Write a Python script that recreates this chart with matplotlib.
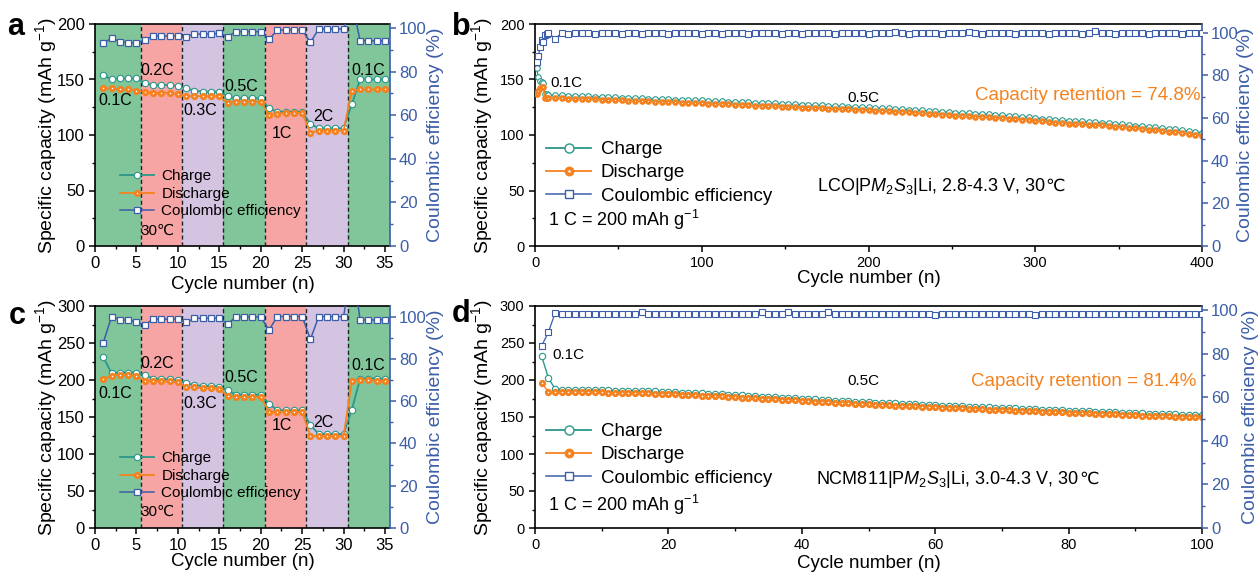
import matplotlib
matplotlib.use("Agg")
import matplotlib.pyplot as plt
from matplotlib.lines import Line2D
from matplotlib.ticker import MultipleLocator
from matplotlib.offsetbox import TextArea, HPacker, AnchoredOffsetbox

plt.rcParams['font.family'] = ['Liberation Sans', 'DejaVu Sans']
plt.rcParams['mathtext.fontset'] = 'custom'
plt.rcParams['mathtext.rm'] = 'Liberation Sans'
plt.rcParams['mathtext.it'] = 'Liberation Sans:italic'
plt.rcParams['mathtext.bf'] = 'Liberation Sans:bold'

TEAL = '#2b978a'
ORANGE = '#f5821f'
BLUE = '#3c5ea8'
GREEN = '#80c69a'
PINK = '#f6a4a4'
PURPLE = '#d4c3e1'

# ---------------- data: rate tests (a, c) ----------------
rate_cycles = list(range(1, 36))
rate_labels = ['0.1C', '0.2C', '0.3C', '0.5C', '1C', '2C', '0.1C']
band_edges = [0, 5.5, 10.5, 15.5, 20.5, 25.5, 30.5, 35.6]

a_charge = [154, 150, 151, 151, 151, 147, 145, 145, 145, 144,
            142, 140, 139, 139, 139, 135, 133, 133, 133, 133,
            124, 121, 121, 121, 121, 110, 106, 106, 106, 106,
            128, 150, 150, 150, 150]
a_discharge = [142, 142, 141, 141, 140, 139, 138, 138, 138, 137,
               135, 135, 135, 135, 135, 129, 130, 130, 130, 130,
               118, 119, 120, 120, 120, 102, 104, 104, 104, 104,
               140, 141, 141, 141, 141]
a_ce = [93.0, 95.3, 93.7, 93.3, 93.0, 94.5, 96.3, 96.3, 96.3, 96.2,
        96.0, 97.2, 97.2, 97.2, 97.5, 96.0, 98.3, 98.3, 98.3, 98.3,
        94.8, 99.0, 99.0, 99.0, 99.0, 93.4, 99.5, 99.5, 99.5, 99.5,
        112.0, 94.0, 94.2, 94.0, 94.0]

c_charge = [231, 209, 210, 210, 210, 207, 202, 201, 201, 200,
            196, 193, 192, 192, 191, 186, 180, 180, 180, 180,
            168, 159, 159, 159, 159, 139, 127, 127, 127, 127,
            160, 202, 202, 202, 201]
c_discharge = [201, 206, 207, 207, 205, 199, 199, 198, 198, 197,
               190, 190, 189, 189, 188, 178, 177, 177, 177, 177,
               157, 157, 157, 157, 157, 124, 124, 124, 124, 124,
               199, 200, 200, 199, 198]
c_ce = [87.7, 100.0, 98.4, 98.4, 97.6, 96.0, 98.8, 98.8, 98.8, 98.8,
        97.2, 99.2, 99.2, 99.2, 99.2, 96.5, 99.8, 99.8, 99.8, 99.8,
        93.7, 100.0, 100.0, 100.0, 100.0, 89.3, 100.0, 100.0, 100.0, 100.0,
        125.0, 98.4, 98.4, 98.4, 98.6]

# ---------------- data: LCO long cycling (b) ----------------
b_cycles = [1, 2, 3, 4, 5, 6, 7] + list(range(8, 401, 4))
b_charge = [160, 152, 149, 148, 147, 137, 136.5,
            136.0, 135.8, 135.6, 135.4, 135.2, 135.0, 134.8, 134.6, 134.4, 134.2,
            133.9, 133.7, 133.5, 133.3, 133.1, 132.8, 132.6, 132.4, 132.2, 131.9,
            131.7, 131.5, 131.3, 131.1, 130.8, 130.6, 130.4, 130.1, 129.9, 129.6,
            129.4, 129.1, 128.9, 128.6, 128.4, 128.1, 127.8, 127.6, 127.3, 127.1,
            126.8, 126.6, 126.3, 126.1, 125.8, 125.6, 125.4, 125.1, 124.9, 124.6,
            124.2, 123.9, 123.6, 123.2, 122.9, 122.5, 122.1, 121.8, 121.4, 121.0,
            120.6, 120.1, 119.7, 119.5, 119.2, 119.0, 118.6, 118.2, 117.9, 117.4,
            117.0, 116.5, 116.0, 115.4, 114.8, 114.2, 113.7, 113.3, 112.9, 112.6,
            112.2, 111.9, 111.6, 111.2, 110.8, 110.2, 109.6, 109.0, 108.5, 108.0,
            107.4, 106.8, 106.2, 105.6, 105.0, 104.2, 103.5, 102.8, 102.1]
b_discharge = [137, 140, 142, 143.5, 143, 133.5, 133.2,
               133.0, 133.2, 132.9, 132.8, 132.6, 132.5, 132.3, 132.0, 131.8, 131.6,
               131.3, 131.1, 130.9, 130.7, 130.5, 130.2, 130.0, 129.8, 129.6, 129.3,
               129.1, 128.9, 128.7, 128.5, 128.2, 128.0, 127.8, 127.5, 127.3, 127.0,
               126.8, 126.5, 126.3, 126.0, 125.8, 125.5, 125.2, 125.0, 124.7, 124.5,
               124.2, 124.0, 123.7, 123.5, 123.2, 123.0, 122.8, 122.5, 122.3, 122.0,
               121.6, 121.3, 121.0, 120.6, 120.3, 119.9, 119.5, 119.2, 118.8, 118.4,
               118.0, 117.5, 117.1, 116.9, 116.6, 116.4, 116.0, 115.6, 115.3, 114.8,
               114.4, 113.9, 113.4, 112.8, 112.2, 111.6, 111.1, 110.7, 110.3, 110.0,
               109.6, 109.3, 109.0, 108.6, 108.2, 107.6, 107.0, 106.4, 105.9, 105.4,
               104.8, 104.2, 103.6, 103.0, 102.4, 101.6, 100.9, 100.2, 99.5]
b_ce = [86, 89, 93, 96.5, 95.5, 99.0, 99.3,
        99.6, 97.2, 99.6, 99.5, 99.7, 99.6, 99.6, 99.5, 99.6, 99.7,
        99.6, 99.5, 99.6, 99.6, 99.2, 99.6, 99.7, 99.6, 99.5, 99.6,
        99.6, 99.7, 99.6, 99.5, 99.6, 99.6, 99.2, 99.6, 99.7, 99.6,
        99.5, 99.6, 99.6, 99.7, 99.6, 99.5, 99.6, 99.6, 99.2, 99.6,
        99.6, 99.7, 99.6, 99.5, 99.6, 99.6, 99.7, 99.6, 99.5, 99.6,
        99.6, 99.7, 100.3, 99.6, 99.5, 99.6, 99.6, 99.7, 99.6, 99.5,
        99.6, 99.6, 99.7, 100.4, 99.6, 99.5, 99.6, 99.6, 99.7, 99.6,
        99.5, 99.6, 99.6, 99.7, 99.6, 99.5, 99.6, 99.6, 99.7, 99.6,
        99.5, 99.6, 100.5, 99.7, 99.6, 99.5, 99.6, 99.6, 99.7, 99.6,
        99.5, 99.6, 99.6, 99.7, 99.6, 99.5, 99.6, 99.6, 99.7]

# ---------------- data: NCM811 long cycling (d) ----------------
d_cycles = list(range(1, 101))
d_charge = [232, 203, 188,
            186.9, 186.8, 186.7, 186.6, 186.5, 186.4, 186.2,
            186.0, 185.8, 185.6, 185.4, 185.2, 185.0, 184.7, 184.5, 184.2, 183.9,
            183.5, 183.1, 182.7, 182.3, 181.9, 181.5, 181.1, 180.7, 180.2, 179.7,
            179.2, 178.7, 178.2, 177.7, 177.2, 176.7, 176.2, 175.7, 175.2, 174.7,
            174.2, 173.7, 173.2, 172.7, 172.2, 171.7, 171.2, 170.8, 170.4, 169.9,
            169.5, 169.1, 168.7, 168.3, 167.9, 167.5, 167.1, 166.7, 166.3, 165.9,
            165.5, 165.1, 164.7, 164.4, 164.0, 163.6, 163.3, 162.9, 162.6, 162.2,
            161.9, 161.5, 161.2, 160.8, 160.5, 160.1, 159.8, 159.4, 159.1, 158.7,
            158.4, 158.0, 157.7, 157.3, 157.0, 156.6, 156.3, 155.9, 155.6, 155.2,
            154.9, 154.6, 154.3, 154.0, 153.7, 153.4, 153.1, 152.8, 152.5, 152.2]
d_discharge = [196, 184, 184.2,
               184.0, 183.9, 183.8, 183.7, 183.6, 183.5, 183.3,
               183.1, 182.9, 182.7, 182.5, 182.3, 182.1, 181.8, 181.6, 181.3, 181.0,
               180.6, 180.2, 179.8, 179.4, 179.0, 178.6, 178.2, 177.8, 177.3, 176.8,
               176.3, 175.8, 175.3, 174.8, 174.3, 173.8, 173.3, 172.8, 172.3, 171.8,
               171.3, 170.8, 170.3, 169.8, 169.3, 168.8, 168.3, 167.9, 167.5, 167.0,
               166.6, 166.2, 165.8, 165.4, 165.0, 164.6, 164.2, 163.8, 163.4, 163.0,
               162.6, 162.2, 161.8, 161.5, 161.1, 160.7, 160.4, 160.0, 159.7, 159.3,
               159.0, 158.6, 158.3, 157.9, 157.6, 157.2, 156.9, 156.5, 156.2, 155.8,
               155.5, 155.1, 154.8, 154.4, 154.1, 153.7, 153.4, 153.0, 152.7, 152.3,
               152.0, 151.7, 151.4, 151.1, 150.8, 150.6, 150.3, 150.0, 149.8, 149.6]
d_ce = [83.5, 89.8, 98.4,
        98.3, 98.3, 98.3, 98.3, 98.3, 98.3, 98.3,
        98.3, 98.3, 98.3, 98.3, 98.3, 99.0, 98.3, 98.3, 98.3, 98.3,
        98.3, 98.3, 98.3, 98.3, 98.3, 98.3, 98.3, 98.3, 98.3, 98.3,
        98.3, 98.3, 98.3, 99.0, 98.3, 98.3, 98.3, 99.0, 98.3, 98.3,
        98.3, 98.3, 98.3, 99.0, 98.3, 98.3, 98.3, 98.3, 98.3, 98.3,
        98.3, 98.3, 98.3, 98.3, 98.3, 98.3, 98.3, 98.3, 98.3, 97.8,
        98.3, 98.3, 98.3, 98.3, 98.3, 98.3, 98.3, 98.3, 98.3, 98.3,
        98.3, 98.3, 98.3, 98.3, 97.8, 98.3, 98.3, 98.3, 98.3, 98.3,
        98.3, 98.3, 98.3, 98.3, 98.3, 98.3, 98.3, 98.3, 98.3, 98.3,
        98.3, 98.3, 98.3, 98.3, 98.3, 98.3, 98.3, 98.3, 98.3, 98.3]

W, H = 1260, 573
fig = plt.figure(figsize=(W / 100, H / 100), dpi=100)


def px_axes(l, t, r, b):
    return fig.add_axes([l / W, 1 - b / H, (r - l) / W, (b - t) / H])


def style_axes(ax, ax2, lsize, rsize):
    for s in ['left', 'bottom', 'top']:
        ax.spines[s].set_linewidth(1.2)
        ax.spines[s].set_color('black')
    ax.spines['right'].set_visible(False)
    for s in ['left', 'bottom', 'top']:
        ax2.spines[s].set_visible(False)
    ax2.spines['right'].set_color(BLUE)
    ax2.spines['right'].set_linewidth(1.2)
    ax.tick_params(which='both', direction='out', labelsize=lsize, top=False, right=False, pad=3)
    ax.tick_params(which='major', length=4.5, width=1.1)
    ax.tick_params(which='minor', length=2.5, width=1.0)
    ax2.tick_params(which='both', direction='out', colors=BLUE, labelsize=rsize, pad=2)
    ax2.tick_params(which='major', length=4.5, width=1.1)
    ax2.tick_params(which='minor', length=2.5, width=1.0)
    ax2.yaxis.set_major_locator(MultipleLocator(20))
    ax2.yaxis.set_minor_locator(MultipleLocator(10))
    ax.set_ylabel('Specific capacity (mAh g$^{-1}$)', fontsize=14)
    ax2.set_ylabel('Coulombic efficiency (%)', fontsize=14, color=BLUE)
    ax.set_xlabel('Cycle number (n)', fontsize=13.5)


def rate_panel(ax, charge, discharge, ce, ymax, y2max, label_pos, temp_y, xlab_y):
    band_colors = [GREEN, PINK, PURPLE, GREEN, PINK, PURPLE, GREEN]
    for i, c in enumerate(band_colors):
        ax.axvspan(band_edges[i], band_edges[i + 1], color=c, lw=0, zorder=0)
    for e in band_edges[1:-1]:
        ax.axvline(e, color='#222222', ls=(0, (3, 2)), lw=1.0, zorder=1)
    ax.plot(rate_cycles, charge, '-o', color=TEAL, lw=1.3, ms=4.6,
            mfc='white', mec=TEAL, mew=0.8, zorder=3)
    ax.plot(rate_cycles, discharge, '-o', color=ORANGE, lw=1.3, ms=3.2,
            mfc='white', mec=ORANGE, mew=2.0, zorder=4)
    ax.set_xlim(0, 35.6)
    ax.set_ylim(0, ymax)
    ax.xaxis.set_major_locator(MultipleLocator(5))
    ax.xaxis.set_minor_locator(MultipleLocator(2.5))
    ax.yaxis.set_major_locator(MultipleLocator(50))
    ax.yaxis.set_minor_locator(MultipleLocator(25))
    ax2 = ax.twinx()
    ax2.plot(rate_cycles, ce, '-s', color=BLUE, lw=1.1, ms=4.0,
             mfc='white', mec=BLUE, mew=0.9, zorder=3)
    ax2.set_ylim(0, y2max)
    style_axes(ax, ax2, 12, 12)
    for txt, (x, y) in zip(rate_labels, label_pos):
        ax.text(x, y, txt, fontsize=11.5, ha='center', va='center', zorder=6)
    ax.text(7.6, temp_y, '30℃', fontsize=11, ha='center', va='center', zorder=6)
    handles = [
        Line2D([], [], color=TEAL, marker='o', ms=4.6, mfc='white', mec=TEAL, mew=0.8, lw=1.3),
        Line2D([], [], color=ORANGE, marker='o', ms=3.2, mfc='white', mec=ORANGE, mew=2.0, lw=1.3),
        Line2D([], [], color=BLUE, marker='s', ms=4.0, mfc='white', mec=BLUE, mew=0.9, lw=1.1),
    ]
    ax2.legend(handles, ['Charge', 'Discharge', 'Coulombic efficiency'],
               loc='upper left', bbox_to_anchor=(0.085, 0.345), frameon=False,
               fontsize=11, handlelength=2.2, handletextpad=0.5,
               labelspacing=0.23, borderpad=0, borderaxespad=0)
    ax.yaxis.set_label_coords(-0.122, 0.5)
    ax2.yaxis.set_label_coords(1.125, 0.5)
    ax.xaxis.set_label_coords(0.5, xlab_y)
    return ax2


def long_panel(ax, cycles, charge, discharge, ce, xmax, ymax, y2max, ms, xlab_y, ylab2_x):
    ax.plot(cycles, charge, '-o', color=TEAL, lw=1.0, ms=ms,
            mfc='white', mec=TEAL, mew=0.8, zorder=3)
    ax.plot(cycles, discharge, '-o', color=ORANGE, lw=1.0, ms=ms * 0.7,
            mfc='white', mec=ORANGE, mew=2.0, zorder=4)
    ax.set_xlim(0, xmax)
    ax.set_ylim(0, ymax)
    ax.yaxis.set_major_locator(MultipleLocator(50))
    ax.yaxis.set_minor_locator(MultipleLocator(25))
    ax2 = ax.twinx()
    ax2.plot(cycles, ce, '-s', color=BLUE, lw=0.9, ms=ms * 0.95,
             mfc='white', mec=BLUE, mew=0.8, zorder=3)
    ax2.set_ylim(0, y2max)
    style_axes(ax, ax2, 10.5, 12)
    handles = [
        Line2D([], [], color=TEAL, marker='o', ms=6.5, mfc='white', mec=TEAL, mew=1.0, lw=1.3),
        Line2D([], [], color=ORANGE, marker='o', ms=4.5, mfc='white', mec=ORANGE, mew=2.6, lw=1.3),
        Line2D([], [], color=BLUE, marker='s', ms=6.0, mfc='white', mec=BLUE, mew=1.0, lw=1.1),
    ]
    ax2.legend(handles, ['Charge', 'Discharge', 'Coulombic efficiency'],
               loc='upper left', bbox_to_anchor=(0.017, 0.472), frameon=False,
               fontsize=13.5, handlelength=2.4, handletextpad=0.5,
               labelspacing=0.32, borderpad=0, borderaxespad=0)
    ax.yaxis.set_label_coords(-0.06, 0.5)
    ax2.yaxis.set_label_coords(ylab2_x, 0.5)
    ax.xaxis.set_label_coords(0.5, xlab_y)
    return ax2


def cell_text(ax, x, y, main):
    # mathtext part plus a separately rendered degree-Celsius sign, baseline aligned
    t1 = TextArea(main, textprops=dict(fontsize=13))
    t2 = TextArea('℃', textprops=dict(fontsize=12.5, family=['DejaVu Sans']))
    pack = HPacker(children=[t1, t2], align='baseline', pad=0, sep=0)
    box = AnchoredOffsetbox(loc='center left', child=pack, pad=0, borderpad=0,
                            frameon=False, bbox_to_anchor=(x, y),
                            bbox_transform=ax.transData)
    ax.add_artist(box)


# panel a
ax_a = px_axes(95, 24, 390, 246)
rate_panel(ax_a, a_charge, a_discharge, a_ce, 200, 101.8,
           [(2.4, 131.5), (7.5, 158), (12.7, 122.5), (17.7, 144),
            (22.5, 101.5), (27.6, 116.5), (33.0, 158)], 14, -0.133)

# panel c
ax_c = px_axes(95, 306, 390, 528)
rate_panel(ax_c, c_charge, c_discharge, c_ce, 300, 105,
           [(2.4, 182), (7.5, 222), (12.7, 168.5), (17.7, 203),
            (22.5, 139), (27.6, 143), (33.0, 220)], 22, -0.114)

# panel b
ax_b = px_axes(535, 24, 1202, 246)
long_panel(ax_b, b_cycles, b_charge, b_discharge, b_ce, 400, 200, 104, 4.0, -0.108, 1.052)
ax_b.xaxis.set_major_locator(MultipleLocator(100))
ax_b.xaxis.set_minor_locator(MultipleLocator(50))
ax_b.text(19, 146.5, '0.1C', fontsize=11, ha='center', va='center')
ax_b.text(197, 133.6, '0.5C', fontsize=11, ha='center', va='center')
ax_b.text(399, 136, 'Capacity retention = 74.8%', fontsize=13.5, color=ORANGE,
          ha='right', va='center')
cell_text(ax_b, 169, 53.5, r'LCO|P$\mathit{M_2S_3}$|Li, 2.8-4.3 V, 30')
ax_b.text(7.8, 23.4, '1 C = 200 mAh g$^{-1}$', fontsize=13, ha='left', va='center')

# panel d
ax_d = px_axes(535, 306, 1202, 528)
long_panel(ax_d, d_cycles, d_charge, d_discharge, d_ce, 100, 300, 101.8, 4.6, -0.12, 1.06)
ax_d.xaxis.set_major_locator(MultipleLocator(20))
ax_d.xaxis.set_minor_locator(MultipleLocator(10))
ax_d.text(5, 234, '0.1C', fontsize=11, ha='center', va='center')
ax_d.text(49.2, 198, '0.5C', fontsize=11, ha='center', va='center')
ax_d.text(99.2, 198, 'Capacity retention = 81.4%', fontsize=13.5, color=ORANGE,
          ha='right', va='center')
cell_text(ax_d, 42.2, 66, r'NCM811|P$\mathit{M_2S_3}$|Li, 3.0-4.3 V, 30')
ax_d.text(2, 31, '1 C = 200 mAh g$^{-1}$', fontsize=13, ha='left', va='center')

# panel letters
for lab, x, y in [('a', 16, 27), ('b', 461, 27), ('c', 17, 316), ('d', 461, 314)]:
    fig.text(x / W, 1 - y / H, lab, fontsize=22, fontweight='bold',
             ha='center', va='center')

fig.savefig('out.png', dpi=100)
